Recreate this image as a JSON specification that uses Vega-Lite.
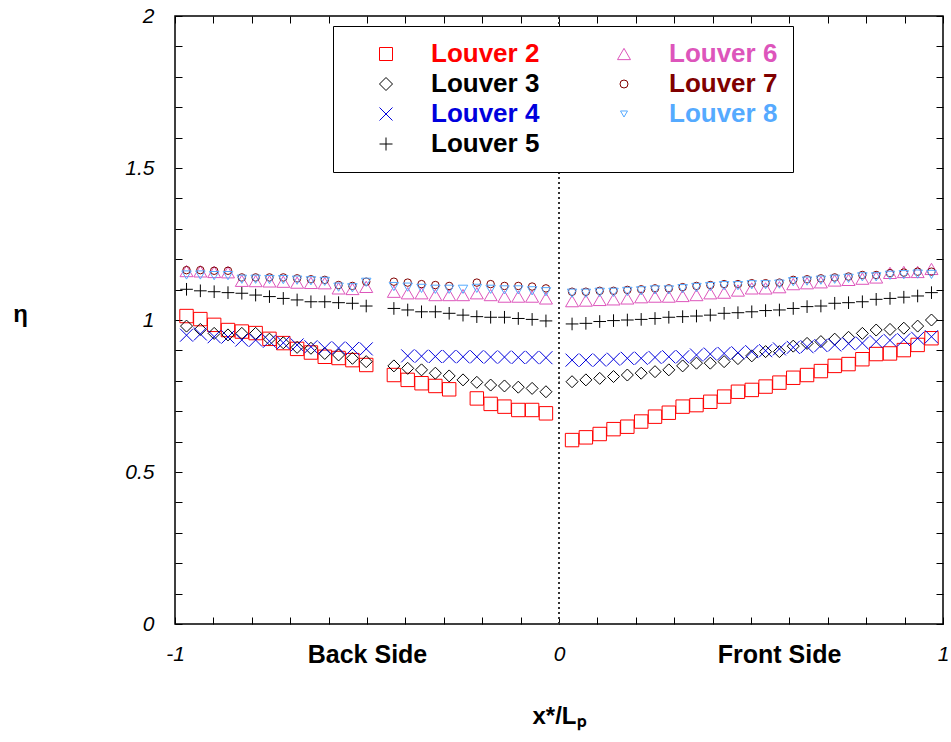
{
  "$schema": "https://vega.github.io/schema/vega-lite/v6.json",
  "width": 768,
  "height": 608,
  "autosize": {"type": "none"},
  "padding": {"left": 175, "top": 16, "right": 8, "bottom": 118},
  "background": "white",
  "config": {
    "font": "Liberation Sans",
    "view": {"stroke": "black", "strokeWidth": 1.5},
    "axis": {"grid": false, "domain": false, "tickColor": "black", "tickWidth": 1, "labelColor": "black", "titleColor": "black"}
  },
  "data": {
    "values": [
      {"x": -0.970, "L2": 1.013, "L3": 0.980, "L4": 0.950, "L5": 1.101, "L6": 1.161, "L7": 1.164, "L8": 1.148},
      {"x": -0.934, "L2": 1.003, "L3": 0.969, "L4": 0.954, "L5": 1.096, "L6": 1.160, "L7": 1.164, "L8": 1.148},
      {"x": -0.898, "L2": 0.984, "L3": 0.956, "L4": 0.945, "L5": 1.093, "L6": 1.158, "L7": 1.162, "L8": 1.146},
      {"x": -0.862, "L2": 0.967, "L3": 0.951, "L4": 0.944, "L5": 1.090, "L6": 1.157, "L7": 1.162, "L8": 1.146},
      {"x": -0.826, "L2": 0.962, "L3": 0.956, "L4": 0.934, "L5": 1.088, "L6": 1.129, "L7": 1.140, "L8": 1.134},
      {"x": -0.790, "L2": 0.957, "L3": 0.956, "L4": 0.934, "L5": 1.082, "L6": 1.128, "L7": 1.140, "L8": 1.134},
      {"x": -0.754, "L2": 0.938, "L3": 0.937, "L4": 0.930, "L5": 1.077, "L6": 1.127, "L7": 1.140, "L8": 1.133},
      {"x": -0.718, "L2": 0.924, "L3": 0.925, "L4": 0.925, "L5": 1.071, "L6": 1.126, "L7": 1.140, "L8": 1.133},
      {"x": -0.682, "L2": 0.905, "L3": 0.910, "L4": 0.918, "L5": 1.066, "L6": 1.123, "L7": 1.137, "L8": 1.131},
      {"x": -0.646, "L2": 0.893, "L3": 0.907, "L4": 0.912, "L5": 1.060, "L6": 1.122, "L7": 1.134, "L8": 1.129},
      {"x": -0.610, "L2": 0.879, "L3": 0.890, "L4": 0.908, "L5": 1.060, "L6": 1.121, "L7": 1.132, "L8": 1.127},
      {"x": -0.574, "L2": 0.875, "L3": 0.885, "L4": 0.908, "L5": 1.057, "L6": 1.104, "L7": 1.115, "L8": 1.108},
      {"x": -0.538, "L2": 0.868, "L3": 0.874, "L4": 0.906, "L5": 1.055, "L6": 1.102, "L7": 1.112, "L8": 1.106},
      {"x": -0.502, "L2": 0.852, "L3": 0.863, "L4": 0.905, "L5": 1.046, "L6": 1.109, "L7": 1.126, "L8": 1.124},
      {"x": -0.430, "L2": 0.819, "L3": 0.849, "L4": null, "L5": 1.038, "L6": 1.093, "L7": 1.126, "L8": 1.110},
      {"x": -0.394, "L2": 0.803, "L3": 0.841, "L4": 0.882, "L5": 1.033, "L6": 1.088, "L7": 1.123, "L8": 1.108},
      {"x": -0.358, "L2": 0.792, "L3": 0.836, "L4": 0.881, "L5": 1.027, "L6": 1.088, "L7": 1.118, "L8": 1.104},
      {"x": -0.322, "L2": 0.783, "L3": 0.825, "L4": 0.880, "L5": 1.027, "L6": 1.082, "L7": 1.115, "L8": 1.101},
      {"x": -0.286, "L2": 0.772, "L3": 0.816, "L4": 0.880, "L5": 1.022, "L6": 1.082, "L7": 1.112, "L8": 1.101},
      {"x": -0.250, "L2": null, "L3": 0.803, "L4": 0.879, "L5": 1.016, "L6": 1.082, "L7": null, "L8": 1.101},
      {"x": -0.214, "L2": 0.742, "L3": 0.795, "L4": 0.879, "L5": 1.011, "L6": 1.088, "L7": 1.123, "L8": 1.104},
      {"x": -0.178, "L2": 0.724, "L3": 0.786, "L4": 0.878, "L5": 1.009, "L6": 1.082, "L7": 1.118, "L8": 1.101},
      {"x": -0.142, "L2": 0.715, "L3": 0.783, "L4": 0.878, "L5": 1.009, "L6": 1.077, "L7": 1.112, "L8": 1.099},
      {"x": -0.106, "L2": 0.704, "L3": 0.779, "L4": 0.877, "L5": 1.005, "L6": 1.077, "L7": 1.112, "L8": 1.099},
      {"x": -0.070, "L2": 0.704, "L3": 0.775, "L4": 0.877, "L5": 1.002, "L6": 1.077, "L7": 1.110, "L8": 1.096},
      {"x": -0.034, "L2": 0.693, "L3": 0.764, "L4": 0.876, "L5": 0.997, "L6": 1.071, "L7": 1.104, "L8": 1.093},
      {"x": 0.034, "L2": 0.605, "L3": 0.797, "L4": 0.868, "L5": 0.987, "L6": 1.062, "L7": 1.093, "L8": 1.088},
      {"x": 0.070, "L2": 0.614, "L3": 0.803, "L4": 0.868, "L5": 0.989, "L6": 1.064, "L7": 1.093, "L8": 1.088},
      {"x": 0.106, "L2": 0.625, "L3": 0.808, "L4": 0.868, "L5": 0.995, "L6": 1.066, "L7": 1.096, "L8": 1.091},
      {"x": 0.142, "L2": 0.641, "L3": 0.814, "L4": 0.871, "L5": 0.998, "L6": 1.068, "L7": 1.096, "L8": 1.091},
      {"x": 0.178, "L2": 0.649, "L3": 0.819, "L4": 0.874, "L5": 1.000, "L6": 1.071, "L7": 1.099, "L8": 1.094},
      {"x": 0.214, "L2": 0.666, "L3": 0.825, "L4": 0.874, "L5": 1.002, "L6": 1.075, "L7": 1.101, "L8": 1.096},
      {"x": 0.250, "L2": 0.682, "L3": 0.830, "L4": 0.877, "L5": 1.005, "L6": 1.077, "L7": 1.104, "L8": 1.099},
      {"x": 0.286, "L2": 0.695, "L3": 0.836, "L4": 0.879, "L5": 1.009, "L6": 1.077, "L7": 1.104, "L8": 1.099},
      {"x": 0.322, "L2": 0.715, "L3": 0.849, "L4": 0.879, "L5": 1.011, "L6": 1.079, "L7": 1.108, "L8": 1.103},
      {"x": 0.358, "L2": 0.720, "L3": 0.858, "L4": 0.885, "L5": 1.013, "L6": 1.082, "L7": 1.112, "L8": 1.107},
      {"x": 0.394, "L2": 0.731, "L3": 0.858, "L4": 0.888, "L5": 1.016, "L6": 1.088, "L7": 1.115, "L8": 1.110},
      {"x": 0.430, "L2": 0.748, "L3": 0.863, "L4": 0.890, "L5": 1.022, "L6": 1.090, "L7": 1.118, "L8": 1.113},
      {"x": 0.466, "L2": 0.764, "L3": 0.873, "L4": 0.892, "L5": 1.024, "L6": 1.097, "L7": 1.118, "L8": 1.113},
      {"x": 0.502, "L2": 0.770, "L3": 0.882, "L4": 0.896, "L5": 1.027, "L6": 1.104, "L7": 1.121, "L8": 1.116},
      {"x": 0.538, "L2": 0.781, "L3": 0.896, "L4": 0.899, "L5": 1.031, "L6": 1.104, "L7": 1.121, "L8": 1.116},
      {"x": 0.574, "L2": 0.794, "L3": 0.896, "L4": 0.905, "L5": 1.033, "L6": 1.108, "L7": 1.123, "L8": 1.118},
      {"x": 0.610, "L2": 0.810, "L3": 0.914, "L4": 0.910, "L5": 1.038, "L6": 1.118, "L7": 1.132, "L8": 1.126},
      {"x": 0.646, "L2": 0.819, "L3": 0.923, "L4": 0.912, "L5": 1.044, "L6": 1.121, "L7": 1.134, "L8": 1.128},
      {"x": 0.682, "L2": 0.832, "L3": 0.929, "L4": 0.916, "L5": 1.046, "L6": 1.124, "L7": 1.137, "L8": 1.131},
      {"x": 0.718, "L2": 0.849, "L3": 0.937, "L4": 0.918, "L5": 1.055, "L6": 1.130, "L7": 1.140, "L8": 1.134},
      {"x": 0.754, "L2": 0.855, "L3": 0.943, "L4": 0.922, "L5": 1.057, "L6": 1.132, "L7": 1.143, "L8": 1.137},
      {"x": 0.790, "L2": 0.871, "L3": 0.956, "L4": 0.924, "L5": 1.060, "L6": 1.136, "L7": 1.148, "L8": 1.142},
      {"x": 0.826, "L2": 0.888, "L3": 0.967, "L4": 0.929, "L5": 1.068, "L6": 1.140, "L7": 1.148, "L8": 1.142},
      {"x": 0.862, "L2": 0.890, "L3": 0.969, "L4": 0.933, "L5": 1.071, "L6": 1.155, "L7": 1.154, "L8": 1.147},
      {"x": 0.898, "L2": 0.901, "L3": 0.973, "L4": 0.935, "L5": 1.075, "L6": 1.158, "L7": 1.156, "L8": 1.149},
      {"x": 0.934, "L2": 0.918, "L3": 0.980, "L4": 0.940, "L5": 1.079, "L6": 1.158, "L7": 1.159, "L8": 1.151},
      {"x": 0.970, "L2": 0.940, "L3": 1.000, "L4": 0.945, "L5": 1.090, "L6": 1.168, "L7": 1.159, "L8": 1.150}
    ]
  },
  "layer": [
    {
      "transform": [
        {"fold": ["L2", "L3", "L4", "L5", "L6", "L7", "L8"], "as": ["louver", "eta"]},
        {"filter": "datum.eta != null"}
      ],
      "mark": {"type": "point", "filled": false, "strokeWidth": 1, "opacity": 1},
      "encoding": {
        "x": {
          "field": "x", "type": "quantitative",
          "scale": {"domain": [-1, 1], "nice": false, "zero": false},
          "axis": {
            "orient": "bottom",
            "values": [-1, -0.9, -0.8, -0.7, -0.6, -0.5, -0.4, -0.3, -0.2, -0.1, 0, 0.1, 0.2, 0.3, 0.4, 0.5, 0.6, 0.7, 0.8, 0.9, 1],
            "tickSize": -7,
            "labelExpr": "datum.value == -1 ? '-1' : datum.value == 0 ? '0' : datum.value == 1 ? '1' : datum.value == -0.5 ? 'Back Side' : datum.value == 0.5 ? 'Front Side' : ''",
            "labelFont": "Liberation Sans",
            "labelFontSize": {"condition": {"test": "abs(datum.value) == 0.5", "value": 25}, "value": 21},
            "labelFontStyle": {"condition": {"test": "abs(datum.value) == 0.5", "value": "normal"}, "value": "italic"},
            "labelFontWeight": {"condition": {"test": "abs(datum.value) == 0.5", "value": "bold"}, "value": "normal"},
            "labelOffset": {"condition": {"test": "datum.value == 0.5", "value": 28}, "value": 0},
            "labelBaseline": "middle",
            "labelPadding": 37,
            "labelFlush": false,
            "labelOverlap": false,
            "title": "x*/Lₚ",
            "titleFont": "Liberation Sans",
            "titleFontSize": 24,
            "titleFontWeight": "bold",
            "titleY": 99,
            "titleBaseline": "alphabetic"
          }
        },
        "y": {
          "field": "eta", "type": "quantitative",
          "scale": {"domain": [0, 2], "nice": false, "zero": false},
          "axis": {
            "orient": "left",
            "values": [0, 0.1, 0.2, 0.3, 0.4, 0.5, 0.6, 0.7, 0.8, 0.9, 1, 1.1, 1.2, 1.3, 1.4, 1.5, 1.6, 1.7, 1.8, 1.9, 2],
            "tickSize": -7,
            "labelExpr": "datum.value == 0 ? '0' : datum.value == 0.5 ? '0.5' : datum.value == 1 ? '1' : datum.value == 1.5 ? '1.5' : datum.value == 2 ? '2' : ''",
            "labelFont": "Liberation Sans",
            "labelFontSize": 21,
            "labelFontStyle": "italic",
            "labelBaseline": "middle",
            "labelPadding": 28,
            "labelFlush": false,
            "labelOverlap": false,
            "title": "η",
            "titleAngle": 0,
            "titleX": -155,
            "titleY": 298,
            "titleAlign": "center",
            "titleBaseline": "middle",
            "titleFont": "Liberation Sans",
            "titleFontSize": 24,
            "titleFontWeight": "bold"
          }
        },
        "color": {
          "field": "louver", "type": "nominal",
          "scale": {
            "domain": ["L2", "L3", "L4", "L5", "L6", "L7", "L8"],
            "range": ["#ff0000", "#000000", "#0000dd", "#000000", "#dd55bb", "#800000", "#55aaff"]
          },
          "legend": {
            "orient": "none",
            "legendX": 158,
            "legendY": 10,
            "title": null,
            "columns": 2,
            "labelExpr": "'Louver ' + slice(datum.label, 1)",
            "labelFont": "Liberation Sans",
            "labelFontSize": 26,
            "labelFontWeight": "bold",
            "labelColor": {"expr": "datum.value == 'L2' ? '#ff0000' : datum.value == 'L4' ? '#0000dd' : datum.value == 'L6' ? '#dd55bb' : datum.value == 'L7' ? '#800000' : datum.value == 'L8' ? '#55aaff' : '#000000'"},
            "symbolSize": {"expr": "datum.value == 'L7' ? 64 : datum.value == 'L8' ? 49 : 169"},
            "symbolOffset": 25,
            "labelOffset": 32,
            "columnPadding": 46,
            "rowPadding": 4,
            "padding": 15,
            "strokeColor": "black",
            "fillColor": "white",
            "symbolStrokeWidth": 1
          }
        },
        "shape": {
          "field": "louver", "type": "nominal",
          "scale": {
            "domain": ["L2", "L3", "L4", "L5", "L6", "L7", "L8"],
            "range": ["square", "diamond", "M-1,-1L1,1M-1,1L1,-1", "M-1,0L1,0M0,-1L0,1", "triangle-up", "circle", "triangle-down"]
          },
          "legend": {
            "orient": "none",
            "legendX": 158,
            "legendY": 10,
            "title": null,
            "columns": 2,
            "labelExpr": "'Louver ' + slice(datum.label, 1)",
            "labelFont": "Liberation Sans",
            "labelFontSize": 26,
            "labelFontWeight": "bold",
            "labelColor": {"expr": "datum.value == 'L2' ? '#ff0000' : datum.value == 'L4' ? '#0000dd' : datum.value == 'L6' ? '#dd55bb' : datum.value == 'L7' ? '#800000' : datum.value == 'L8' ? '#55aaff' : '#000000'"},
            "symbolSize": {"expr": "datum.value == 'L7' ? 64 : datum.value == 'L8' ? 49 : 169"},
            "symbolOffset": 25,
            "labelOffset": 32,
            "columnPadding": 46,
            "rowPadding": 4,
            "padding": 15,
            "strokeColor": "black",
            "fillColor": "white",
            "symbolStrokeWidth": 1
          }
        },
        "size": {
          "condition": [
            {"test": "datum.louver == 'L2'", "value": 180},
            {"test": "datum.louver == 'L3'", "value": 144},
            {"test": "datum.louver == 'L7'", "value": 56},
            {"test": "datum.louver == 'L8'", "value": 90},
            {"test": "datum.louver == 'L5'", "value": 160}
          ],
          "value": 169
        }
      }
    },
    {
      "mark": {"type": "rule", "strokeDash": [2, 3], "color": "#333333", "strokeWidth": 1},
      "encoding": {
        "x": {
          "datum": 0, "type": "quantitative",
          "scale": {"domain": [-1, 1], "nice": false, "zero": false},
          "axis": {
            "orient": "top",
            "values": [-1, -0.9, -0.8, -0.7, -0.6, -0.5, -0.4, -0.3, -0.2, -0.1, 0, 0.1, 0.2, 0.3, 0.4, 0.5, 0.6, 0.7, 0.8, 0.9, 1],
            "tickSize": {"condition": {"test": "datum.value == 0", "value": -10}, "value": -7},
            "labels": false,
            "title": null
          }
        },
        "y": {
          "datum": 0, "type": "quantitative",
          "scale": {"domain": [0, 2], "nice": false, "zero": false},
          "axis": {
            "orient": "right",
            "values": [0, 0.1, 0.2, 0.3, 0.4, 0.5, 0.6, 0.7, 0.8, 0.9, 1, 1.1, 1.2, 1.3, 1.4, 1.5, 1.6, 1.7, 1.8, 1.9, 2],
            "tickSize": -7,
            "labels": false,
            "title": null
          }
        },
        "y2": {"datum": 2}
      }
    }
  ],
  "resolve": {"axis": {"x": "independent", "y": "independent"}}
}
